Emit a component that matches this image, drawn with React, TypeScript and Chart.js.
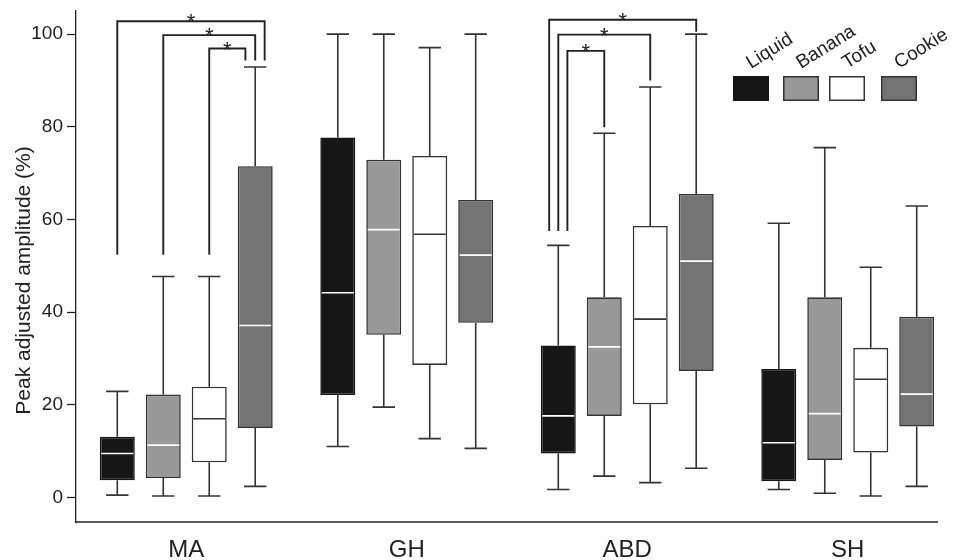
import React, { useEffect, useRef } from 'react';
import { Chart, registerables } from 'chart.js';

Chart.register(...registerables);

// ---------- data ----------
const categories = ['MA', 'GH', 'ABD', 'SH'];
const seriesNames = ['Liquid', 'Banana', 'Tofu', 'Cookie'];

const liquidMin = [0.5, 11.0, 1.7, 1.7];
const liquidQ1 = [3.7, 22.1, 9.5, 3.5];
const liquidMed = [9.5, 44.2, 17.6, 11.8];
const liquidQ3 = [13.1, 77.7, 32.8, 27.7];
const liquidMax = [22.9, 100, 54.4, 59.2];

const bananaMin = [0.3, 19.5, 4.6, 0.9];
const bananaQ1 = [4.2, 35.1, 17.6, 8.1];
const bananaMed = [11.3, 57.8, 32.5, 18.1];
const bananaQ3 = [22.2, 72.9, 43.2, 43.2];
const bananaMax = [47.7, 100, 78.6, 75.5];

const tofuMin = [0.3, 12.7, 3.2, 0.3];
const tofuQ1 = [7.6, 28.6, 20.1, 9.7];
const tofuMed = [17.0, 56.8, 38.5, 25.5];
const tofuQ3 = [23.9, 73.7, 58.6, 32.3];
const tofuMax = [47.7, 97.1, 88.6, 49.7];

const cookieMin = [2.4, 10.6, 6.3, 2.4];
const cookieQ1 = [15.0, 37.7, 27.3, 15.3];
const cookieMed = [37.1, 52.3, 51.0, 22.3];
const cookieQ3 = [71.5, 64.2, 65.5, 39.0];
const cookieMax = [92.9, 100, 100, 62.9];

const yTicks = [0, 20, 40, 60, 80, 100];
const yMin = -5.3;
const yMax = 105;
const yTitle = 'Peak adjusted amplitude (%)';

// significance brackets: category index, series from/to, top value, leg ends
const sigCategory = [0, 0, 0, 2, 2, 2];
const sigFrom = [0, 1, 2, 0, 0, 0];
const sigTo = [3, 3, 3, 3, 2, 1];
const sigTop = [102.8, 99.8, 96.9, 103.1, 99.9, 96.4];
const sigFromEnd = [52.4, 52.4, 52.4, 57.5, 57.5, 57.5];
const sigToEnd = [94.3, 94.3, 94.3, 100.5, 90.0, 79.9];
const sigLabel = ['*', '*', '*', '*', '*', '*'];

// ---------- styling ----------
const FONT = "'Liberation Sans', Arial, Helvetica, sans-serif";
const TEXT = '#222222';
const LINE = '#333333';
const seriesFill = ['#161616', '#999999', '#ffffff', '#747474'];
const seriesBorder = ['#161616', '#333333', '#333333', '#333333'];
const medianColor = ['#ffffff', '#ffffff', '#333333', '#ffffff'];
// leg offsets of brackets, in box widths
const sigFromShift = [0, 0, 0, -0.26, 0, 0.26];
const sigToShift = [0.27, 0, -0.28, 0, 0, 0];
// legend layout
const legendBoxX = [733, 783, 829, 881];
const legendBoxY = 76;
const legendBoxW = 36;
const legendBoxH = 25;

const boxStats = [
  { min: liquidMin, q1: liquidQ1, med: liquidMed, q3: liquidQ3, max: liquidMax },
  { min: bananaMin, q1: bananaQ1, med: bananaMed, q3: bananaQ3, max: bananaMax },
  { min: tofuMin, q1: tofuQ1, med: tofuMed, q3: tofuQ3, max: tofuMax },
  { min: cookieMin, q1: cookieQ1, med: cookieMed, q3: cookieQ3, max: cookieMax },
];

const boxPlugin = {
  id: 'boxExtras',
  beforeDatasetsDraw(chart: any) {
    const ctx = chart.ctx;
    const ys = chart.scales.y;
    chart.data.datasets.forEach((_ds: any, di: number) => {
      const meta = chart.getDatasetMeta(di);
      const s = boxStats[di];
      meta.data.forEach((bar: any, i: number) => {
        const { x, width } = bar.getProps(['x', 'width'], true);
        const cap = width * 0.64;
        const pMax = ys.getPixelForValue(s.max[i]);
        const pMin = ys.getPixelForValue(s.min[i]);
        const pQ1 = ys.getPixelForValue(s.q1[i]);
        const pQ3 = ys.getPixelForValue(s.q3[i]);
        ctx.save();
        ctx.strokeStyle = LINE;
        ctx.lineWidth = 1.6;
        ctx.beginPath();
        ctx.moveTo(x, pQ3);
        ctx.lineTo(x, pMax);
        ctx.moveTo(x - cap / 2, pMax);
        ctx.lineTo(x + cap / 2, pMax);
        ctx.moveTo(x, pQ1);
        ctx.lineTo(x, pMin);
        ctx.moveTo(x - cap / 2, pMin);
        ctx.lineTo(x + cap / 2, pMin);
        ctx.stroke();
        ctx.restore();
      });
    });
  },
  afterDatasetsDraw(chart: any) {
    const ctx = chart.ctx;
    const ys = chart.scales.y;
    const area = chart.chartArea;
    // medians
    chart.data.datasets.forEach((_ds: any, di: number) => {
      const meta = chart.getDatasetMeta(di);
      const s = boxStats[di];
      meta.data.forEach((bar: any, i: number) => {
        const { x, width } = bar.getProps(['x', 'width'], true);
        const pMed = ys.getPixelForValue(s.med[i]);
        ctx.save();
        ctx.strokeStyle = medianColor[di];
        ctx.lineWidth = 1.6;
        ctx.beginPath();
        ctx.moveTo(x - width / 2 + 1.5, pMed);
        ctx.lineTo(x + width / 2 - 1.5, pMed);
        ctx.stroke();
        ctx.restore();
      });
    });
    // significance brackets
    sigCategory.forEach((ci, k) => {
      const barA = chart.getDatasetMeta(sigFrom[k]).data[ci];
      const barB = chart.getDatasetMeta(sigTo[k]).data[ci];
      const a = barA.getProps(['x', 'width'], true);
      const b = barB.getProps(['x', 'width'], true);
      const xa = a.x + sigFromShift[k] * a.width;
      const xb = b.x + sigToShift[k] * b.width;
      const pTop = ys.getPixelForValue(sigTop[k]);
      const pA = ys.getPixelForValue(sigFromEnd[k]);
      const pB = ys.getPixelForValue(sigToEnd[k]);
      ctx.save();
      ctx.strokeStyle = '#222222';
      ctx.lineWidth = 1.9;
      ctx.beginPath();
      ctx.moveTo(xa, pA);
      ctx.lineTo(xa, pTop);
      ctx.lineTo(xb, pTop);
      ctx.lineTo(xb, pB);
      ctx.stroke();
      ctx.fillStyle = TEXT;
      ctx.font = `22px ${FONT}`;
      ctx.textAlign = 'center';
      ctx.textBaseline = 'alphabetic';
      ctx.fillText(sigLabel[k], (xa + xb) / 2, pTop + 8);
      ctx.restore();
    });
    // bottom axis line
    ctx.save();
    ctx.strokeStyle = '#222222';
    ctx.lineWidth = 1.3;
    ctx.beginPath();
    ctx.moveTo(area.left, area.bottom);
    ctx.lineTo(area.right - 20, area.bottom);
    ctx.stroke();
    ctx.restore();
  },
  afterDraw(chart: any) {
    const ctx = chart.ctx;
    const area = chart.chartArea;
    // y-axis title
    ctx.save();
    ctx.translate(24, (area.top + area.bottom) / 2 + 14);
    ctx.rotate(-Math.PI / 2);
    ctx.fillStyle = TEXT;
    ctx.font = `21px ${FONT}`;
    ctx.textAlign = 'center';
    ctx.textBaseline = 'middle';
    ctx.fillText(yTitle, 0, 0);
    ctx.restore();
    // legend
    seriesNames.forEach((name, i) => {
      const bx = legendBoxX[i];
      ctx.save();
      ctx.fillStyle = seriesFill[i];
      ctx.fillRect(bx, legendBoxY, legendBoxW, legendBoxH);
      ctx.strokeStyle = seriesBorder[i];
      ctx.lineWidth = 1.5;
      ctx.strokeRect(bx + 0.75, legendBoxY + 0.75, legendBoxW - 1.5, legendBoxH - 1.5);
      ctx.translate(bx + legendBoxW / 2, legendBoxY - 7);
      ctx.rotate((-32 * Math.PI) / 180);
      ctx.fillStyle = TEXT;
      ctx.font = `19px ${FONT}`;
      ctx.textAlign = 'left';
      ctx.textBaseline = 'alphabetic';
      ctx.fillText(name, 0, 0);
      ctx.restore();
    });
  },
};

export default function App() {
  const canvasRef = useRef<HTMLCanvasElement | null>(null);

  useEffect(() => {
    const canvas = canvasRef.current;
    if (!canvas) return;
    const chart = new Chart(canvas, {
      type: 'bar',
      data: {
        labels: categories,
        datasets: boxStats.map((s, di) => ({
          label: seriesNames[di],
          data: s.q1.map((v, i) => [v, s.q3[i]]),
          backgroundColor: seriesFill[di],
          borderColor: seriesBorder[di],
          borderWidth: 1.6,
          borderSkipped: false,
          categoryPercentage: 0.834,
          barPercentage: 0.761,
        })),
      } as any,
      options: {
        animation: false,
        responsive: false,
        devicePixelRatio: 1,
        layout: { padding: { top: 11, left: 0, right: 0, bottom: 0 } },
        plugins: {
          legend: { display: false },
          tooltip: { enabled: false },
        },
        scales: {
          x: {
            grid: { display: false, drawTicks: false },
            border: { display: false },
            ticks: {
              padding: 14,
              color: TEXT,
              font: { family: FONT, size: 24 },
            },
            afterFit: (axis: any) => {
              axis.height = 38;
              axis.paddingLeft = 0;
              axis.paddingRight = 0;
            },
          },
          y: {
            min: yMin,
            max: yMax,
            afterBuildTicks: (axis: any) => {
              axis.ticks = yTicks.map((v) => ({ value: v }));
            },
            afterFit: (axis: any) => {
              axis.width = 76;
              axis.paddingTop = 0;
              axis.paddingBottom = 0;
            },
            grid: {
              drawOnChartArea: false,
              drawTicks: true,
              tickLength: 9,
              tickWidth: 1.3,
              tickColor: '#222222',
            },
            border: { display: true, color: '#222222', width: 1.3 },
            ticks: {
              padding: 4,
              color: TEXT,
              font: { family: FONT, size: 19 },
            },
            title: { display: false },
          },
        },
      } as any,
      plugins: [boxPlugin],
    });
    return () => chart.destroy();
  }, []);

  return (
    <div style={{ position: 'absolute', left: 0, top: 0, width: 958, height: 560, background: '#fff' }}>
      <canvas ref={canvasRef} width={958} height={560} style={{ display: 'block' }} />
    </div>
  );
}
